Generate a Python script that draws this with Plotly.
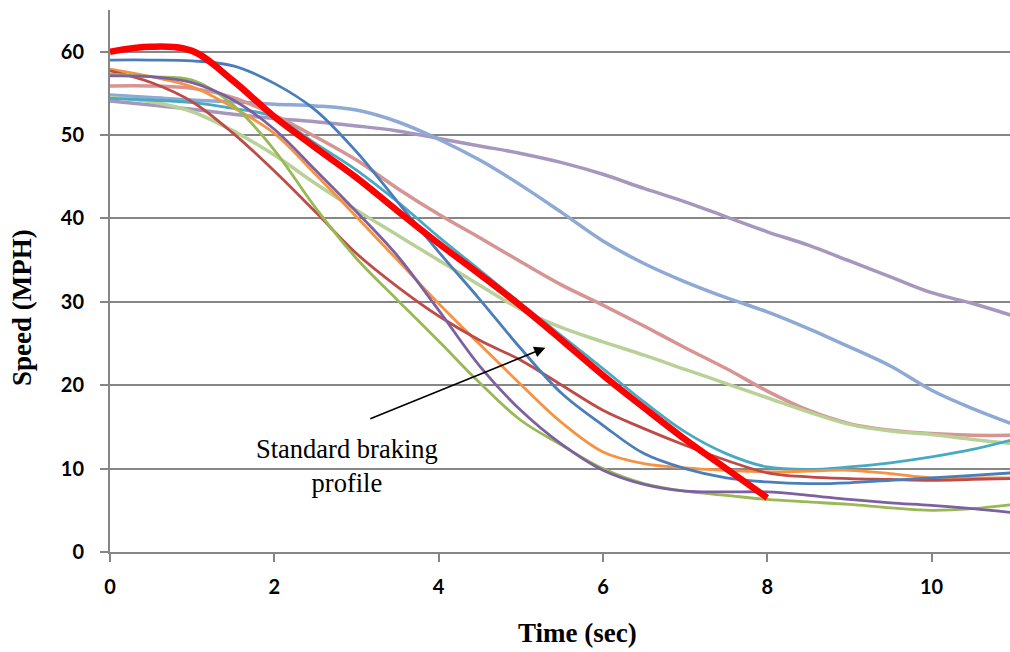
import plotly.graph_objects as go

t = [0, 0.5, 1, 1.5, 2, 2.5, 3, 3.5, 4, 4.5, 5, 5.5, 6, 6.5, 7, 7.5, 8, 8.5, 9, 9.5, 10, 10.5, 11]

light_purple = [54.1, 53.6, 53.1, 52.5, 52.0, 51.6, 51.1, 50.5, 49.6, 48.7, 47.8, 46.7, 45.3, 43.6, 42.0, 40.2, 38.4, 36.8, 34.9, 33.0, 31.1, 29.8, 28.3]
light_blue = [54.8, 54.5, 54.2, 54.0, 53.7, 53.5, 53.0, 51.6, 49.5, 47.0, 44.0, 40.7, 37.3, 34.6, 32.4, 30.5, 28.8, 26.8, 24.6, 22.3, 19.4, 17.2, 15.3]
pink = [55.9, 55.9, 55.6, 54.5, 52.4, 49.8, 47.0, 43.6, 40.5, 37.7, 34.8, 32.0, 29.6, 27.1, 24.5, 22.0, 19.3, 17.0, 15.4, 14.6, 14.2, 14.0, 14.0]
light_green = [54.5, 54.0, 52.8, 50.5, 47.6, 44.2, 41.0, 38.0, 35.0, 32.0, 29.1, 26.9, 25.2, 23.6, 21.9, 20.2, 18.5, 16.8, 15.3, 14.5, 14.1, 13.5, 13.0]
teal = [54.4, 54.2, 53.9, 53.2, 52.2, 49.0, 45.8, 42.0, 37.8, 33.8, 29.8, 25.9, 22.0, 18.0, 14.4, 11.8, 10.2, 9.9, 10.2, 10.7, 11.4, 12.3, 13.5]
orange = [57.9, 57.0, 55.8, 53.3, 50.2, 45.3, 40.2, 35.0, 29.8, 24.9, 20.1, 15.5, 12.0, 10.6, 10.1, 9.8, 9.6, 9.7, 9.8, 9.4, 8.9, 8.9, 8.9]
purple = [57.1, 57.0, 56.3, 54.2, 50.7, 45.8, 40.8, 35.5, 29.0, 22.3, 17.0, 12.9, 9.8, 8.1, 7.3, 7.2, 7.2, 6.8, 6.3, 5.9, 5.6, 5.2, 4.7]
green = [57.3, 57.0, 56.6, 53.6, 48.2, 41.3, 35.2, 30.2, 25.3, 20.3, 15.8, 12.8, 10.0, 8.2, 7.3, 6.8, 6.3, 6.0, 5.7, 5.3, 5.0, 5.2, 5.7]
dark_red = [57.7, 56.3, 54.0, 50.2, 45.7, 40.8, 35.8, 31.8, 28.3, 25.4, 23.0, 20.0, 17.0, 14.8, 12.8, 11.0, 9.5, 9.0, 8.8, 8.7, 8.6, 8.7, 8.8]
blue = [59.0, 59.0, 58.9, 58.3, 56.2, 53.0, 48.0, 42.0, 36.0, 30.3, 24.4, 19.0, 15.2, 11.8, 10.0, 8.9, 8.4, 8.2, 8.3, 8.6, 8.9, 9.2, 9.5]

t_std = [0, 0.5, 1, 1.5, 2, 2.5, 3, 3.5, 4, 4.5, 5, 5.5, 6, 6.5, 7, 7.5, 8]
standard = [60.0, 60.6, 60.1, 56.5, 52.2, 48.5, 44.9, 40.9, 37.0, 33.3, 29.5, 25.4, 21.2, 17.3, 13.5, 10.0, 6.5]

y_ticks = [0, 10, 20, 30, 40, 50, 60]
x_ticks = [0, 2, 4, 6, 8, 10]

series = [
    (light_purple, "#A797BF", 3.5),
    (light_blue, "#8DA9D4", 3.5),
    (pink, "#D69492", 3.5),
    (light_green, "#B9D198", 3.5),
    (teal, "#46AAC5", 2.8),
    (orange, "#F69240", 2.8),
    (dark_red, "#BE4B48", 2.8),
    (green, "#98B954", 2.8),
    (purple, "#7D60A0", 2.8),
    (blue, "#4A7EBB", 2.8),
]

fig = go.Figure()
for ys, col, w in series:
    fig.add_trace(go.Scatter(x=t, y=ys, mode="lines",
                             line=dict(color=col, width=w, shape="spline", smoothing=1.0),
                             hoverinfo="skip"))
fig.add_trace(go.Scatter(x=t_std, y=standard, mode="lines",
                         line=dict(color="#FF0000", width=6.5, shape="spline", smoothing=1.0),
                         hoverinfo="skip"))

tickfont = dict(family="Lato", size=20, color="#000000", weight="bold")
fig.update_layout(
    width=1010, height=652,
    margin=dict(l=110, r=0, t=10, b=100),
    paper_bgcolor="white", plot_bgcolor="white",
    showlegend=False,
    xaxis=dict(range=[0, 10.955], tickvals=x_ticks, ticktext=[str(v) for v in x_ticks],
               ticks="outside", ticklen=8, tickwidth=2, tickcolor="#868686",
               showgrid=False, zeroline=False, showline=True, linecolor="#868686", linewidth=2,
               tickfont=tickfont, ticklabelstandoff=8),
    yaxis=dict(range=[0, 65], tickvals=y_ticks, ticktext=[str(v) for v in y_ticks],
               ticks="outside", ticklen=8, tickwidth=2, tickcolor="#868686",
               showgrid=True, gridcolor="#868686", gridwidth=2, zeroline=False,
               showline=True, linecolor="#868686", linewidth=2,
               tickfont=tickfont, ticklabelstandoff=12),
)

fig.add_annotation(x=5.30, y=24.5, ax=3.15, ay=15.9, xref="x", yref="y", axref="x", ayref="y",
                   showarrow=True, arrowhead=2, arrowsize=1.4, arrowwidth=1.6, arrowcolor="#000000", text="")
fig.add_annotation(x=2.89, y=10.3, xref="x", yref="y", showarrow=False,
                   text="Standard braking<br>profile",
                   font=dict(family="Liberation Serif", size=26.5, color="#000000"))

# axis titles placed by pixel position, converted to paper coordinates
pw, ph = 1010 - 110 - 0, 652 - 10 - 100
def px_to_paper(px, py):
    return (px - 110) / pw, (652 - 100 - py) / ph

tx, ty = px_to_paper(577, 633)
fig.add_annotation(x=tx, y=ty, xref="paper", yref="paper", xanchor="center", yanchor="middle",
                   showarrow=False, text="<b>Time (sec)</b>",
                   font=dict(family="Liberation Serif", size=27, color="#000000"))
sx, sy = px_to_paper(22, 308)
fig.add_annotation(x=sx, y=sy, xref="paper", yref="paper", xanchor="center", yanchor="middle",
                   showarrow=False, text="<b>Speed (MPH)</b>", textangle=-90,
                   font=dict(family="Liberation Serif", size=27, color="#000000"))

fig.write_html("out.html")
